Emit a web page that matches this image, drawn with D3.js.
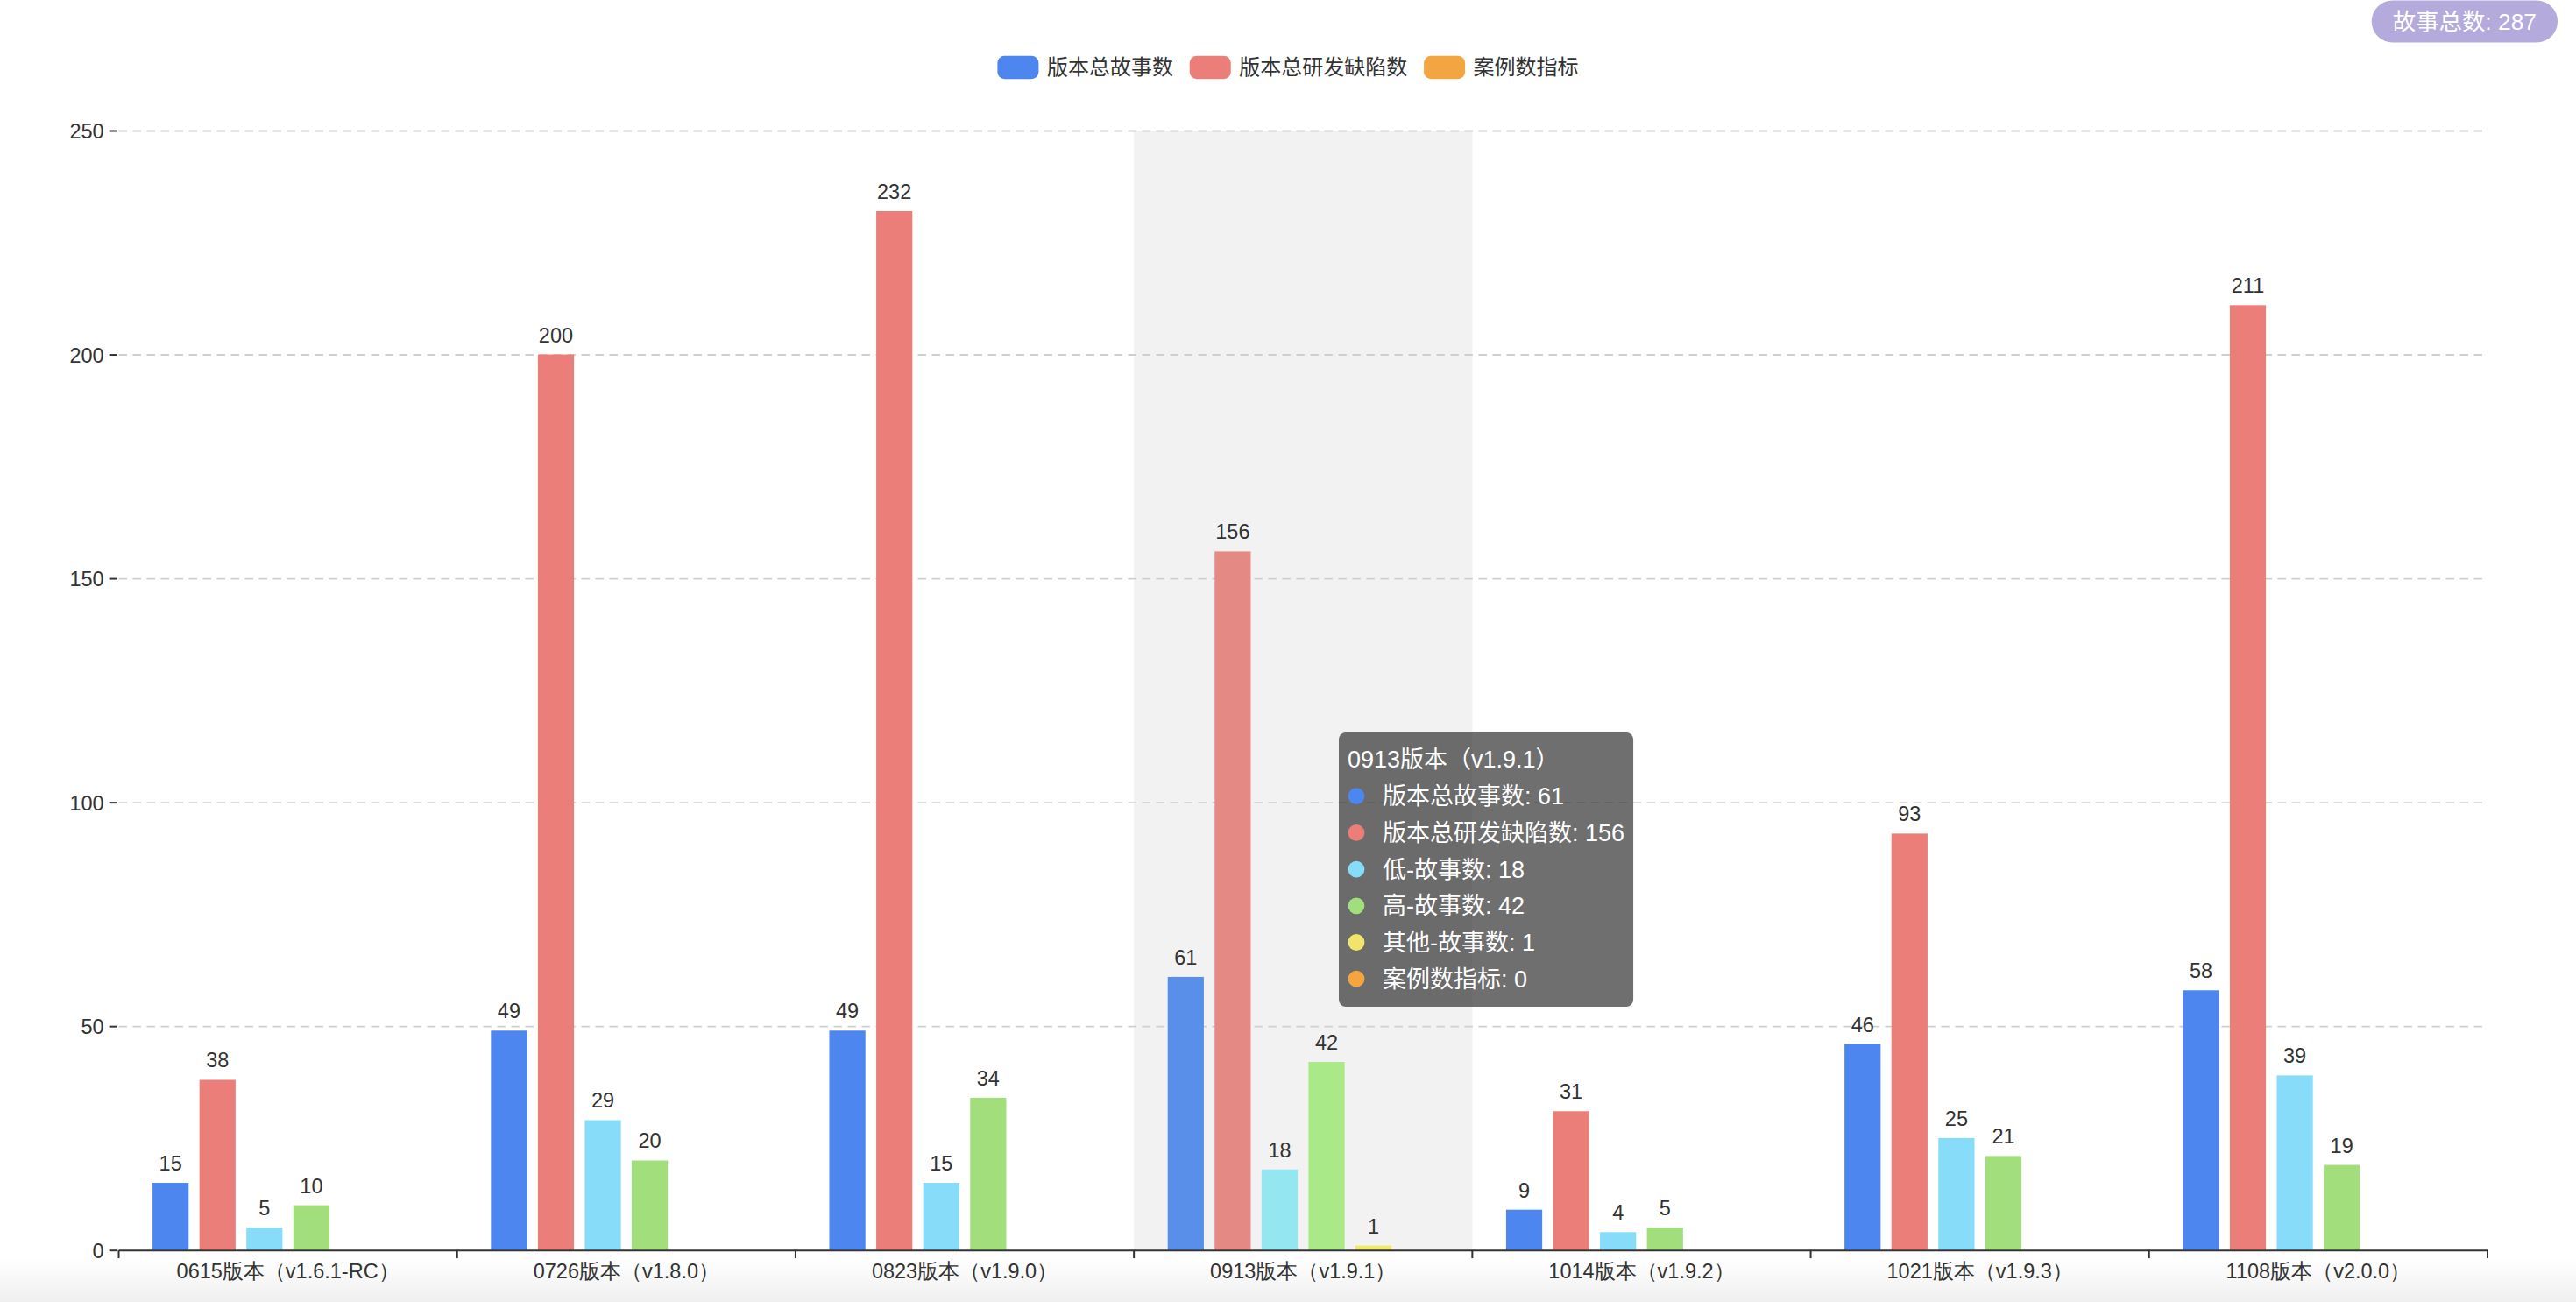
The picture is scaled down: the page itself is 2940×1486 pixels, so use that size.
<!DOCTYPE html>
<html>
  <head>
    <meta charset="utf-8" />
    <title>版本故事与缺陷统计</title>
    <script src="https://d3js.org/d3.v7.min.js"></script>
    <style>
      html, body { margin: 0; padding: 0; background: #fff; }
      svg { display: block; font-family: "Liberation Sans", "Noto Sans CJK SC", sans-serif; }
      .axis text { fill: #333; font-size: 23.5px; }
      .axis .domain { stroke: #333; stroke-width: 2; }
      .axis line { stroke: #333; stroke-width: 2; }
      .grid line { stroke: #cfcfcf; stroke-width: 1.9; stroke-dasharray: 9.4 6.6; }
      .grid .domain { display: none; }
      .value-label { fill: #333; font-size: 23.5px; text-anchor: middle; }
      .legend text { fill: #333; font-size: 24px; }
      .tip text { fill: #fff; font-size: 27px; }
    </style>
  </head>
  <body>
    <svg width="2940" height="1486"></svg>
    <script>
      // data
      var categories = [
        "0615版本（v1.6.1-RC）",
        "0726版本（v1.8.0）",
        "0823版本（v1.9.0）",
        "0913版本（v1.9.1）",
        "1014版本（v1.9.2）",
        "1021版本（v1.9.3）",
        "1108版本（v2.0.0）"
      ];
      var seriesNames = ["版本总故事数", "版本总研发缺陷数", "低-故事数", "高-故事数", "其他-故事数", "案例数指标"];
      var totalStories = [15, 49, 49, 61, 9, 46, 58];
      var totalDefects = [38, 200, 232, 156, 31, 93, 211];
      var lowStories = [5, 29, 15, 18, 4, 25, 39];
      var highStories = [10, 20, 34, 42, 5, 21, 19];
      var otherStories = [0, 0, 0, 1, 0, 0, 0];
      var caseIndex = [0, 0, 0, 0, 0, 0, 0];
      var yTicks = [0, 50, 100, 150, 200, 250];
      var legendNames = ["版本总故事数", "版本总研发缺陷数", "案例数指标"];
      var hovered = "0913版本（v1.9.1）";

      var seriesValues = [totalStories, totalDefects, lowStories, highStories, otherStories, caseIndex];
      var colors = ["#4e86ef", "#ec7e7a", "#87dcf9", "#a2de7b", "#f2e46b", "#f2a541"];
      var hoverColors = ["#5a8fe9", "#e58984", "#94e6f0", "#aae988", "#f0e96a", "#f0aa4c"];

      var W = 2940, H = 1486;
      var margin = { top: 149, right: 101, bottom: 59.3, left: 135.5 };
      var svg = d3.select("svg");

      // soft shade at the bottom edge
      var defs = svg.append("defs");
      var grad = defs.append("linearGradient").attr("id", "bottomShade")
        .attr("x1", 0).attr("y1", 0).attr("x2", 0).attr("y2", 1);
      grad.append("stop").attr("offset", "0%").attr("stop-color", "#ffffff");
      grad.append("stop").attr("offset", "100%").attr("stop-color", "#efefef");
      svg.append("rect").attr("x", 0).attr("y", 1436).attr("width", W).attr("height", 50)
        .attr("fill", "url(#bottomShade)");

      var x = d3.scaleBand().domain(categories).range([margin.left, W - margin.right]);
      var xs = d3.scaleBand().domain(seriesNames).range([0, x.bandwidth()])
        .paddingInner(0.2307).paddingOuter(0.72);
      var y = d3.scaleLinear().domain([0, 250]).range([H - margin.bottom, margin.top]);

      // hover shadow
      svg.append("rect")
        .attr("x", x(hovered)).attr("y", y(250))
        .attr("width", x.bandwidth()).attr("height", y(0) - y(250))
        .attr("fill", "#f2f2f2");

      // grid
      svg.append("g").attr("class", "grid")
        .attr("transform", "translate(" + margin.left + ",0)")
        .call(d3.axisLeft(y).tickValues(yTicks.filter(function (d) { return d > 0; }))
          .tickSize(-(W - margin.right - margin.left)).tickFormat(""));

      // y axis
      var yAxis = svg.append("g").attr("class", "axis")
        .attr("transform", "translate(" + (margin.left - 1.5) + ",0)")
        .call(d3.axisLeft(y).tickValues(yTicks).tickSize(9.4).tickPadding(6));
      yAxis.select(".domain").remove();
      yAxis.selectAll("text").attr("dy", "0.36em");

      // bars
      var groups = svg.append("g").selectAll("g")
        .data(categories).enter().append("g")
        .attr("transform", function (c) { return "translate(" + x(c) + ",0)"; });

      groups.each(function (c, ci) {
        var g = d3.select(this);
        var rows = seriesNames.map(function (s, si) {
          return { name: s, si: si, value: seriesValues[si][ci] };
        });
        g.selectAll("rect").data(rows).enter().append("rect")
          .attr("x", function (d) { return xs(d.name); })
          .attr("y", function (d) { return y(d.value); })
          .attr("width", xs.bandwidth())
          .attr("height", function (d) { return y(0) - y(d.value); })
          .attr("fill", function (d) { return c === hovered ? hoverColors[d.si] : colors[d.si]; });
        g.selectAll("text").data(rows.filter(function (d) { return d.value > 0; }))
          .enter().append("text").attr("class", "value-label")
          .attr("x", function (d) { return xs(d.name) + xs.bandwidth() / 2; })
          .attr("y", function (d) { return y(d.value) - 14; })
          .text(function (d) { return d.value; });
      });

      // x axis
      var xAxis = svg.append("g").attr("class", "axis")
        .attr("transform", "translate(0," + y(0) + ")")
        .call(d3.axisBottom(x).tickSize(0).tickPadding(16).tickSizeOuter(0));
      xAxis.selectAll("text").attr("dy", "0.71em");
      var boundaries = categories.map(function (c) { return x(c); }).concat([x.range()[1]]);
      xAxis.selectAll(".btick").data(boundaries).enter().append("line")
        .attr("class", "btick")
        .attr("x1", function (d) { return d; }).attr("x2", function (d) { return d; })
        .attr("y1", 0).attr("y2", 9.4);

      // legend
      var legend = svg.append("g").attr("class", "legend");
      var lx = 0;
      legendNames.forEach(function (name) {
        var si = seriesNames.indexOf(name);
        var item = legend.append("g").attr("transform", "translate(" + lx + ",0)");
        item.append("rect").attr("x", 0).attr("y", -13.2).attr("width", 47).attr("height", 26.4)
          .attr("rx", 8).attr("fill", colors[si]);
        var t = item.append("text").attr("x", 56.5).attr("y", 0).attr("dy", "0.35em").text(name);
        lx += 56.5 + t.node().getComputedTextLength() + 18.85;
      });
      lx -= 18.85;
      legend.attr("transform", "translate(" + (W / 2 - lx / 2) + ",77)");

      // total badge
      var total = d3.sum(totalStories);
      var badge = svg.append("g");
      var bt = badge.append("text").attr("fill", "#fff").style("font-size", "26.4px")
        .attr("text-anchor", "middle").attr("dy", "0.35em").text("故事总数: " + total);
      var bw = bt.node().getComputedTextLength() + 48;
      badge.insert("rect", "text").attr("x", -bw / 2).attr("y", -24).attr("width", bw).attr("height", 48)
        .attr("rx", 24).attr("fill", "#b4abdc");
      badge.attr("transform", "translate(" + (2919 - bw / 2) + ",24.5)");

      // tooltip for the hovered version
      var hi = categories.indexOf(hovered);
      var tip = svg.append("g").attr("class", "tip").attr("transform", "translate(1528,836)");
      var tipBg = tip.append("rect").attr("rx", 8).attr("fill", "rgba(50,50,50,0.7)");
      var maxW = 0;
      var tt = tip.append("text").attr("x", 10).attr("y", 31).attr("dy", "0.35em").text(hovered);
      maxW = Math.max(maxW, 10 + tt.node().getComputedTextLength());
      seriesNames.forEach(function (s, si) {
        var cy = 31 + 41.7 * (si + 1);
        tip.append("circle").attr("cx", 20).attr("cy", cy).attr("r", 9.4).attr("fill", colors[si]);
        var t = tip.append("text").attr("x", 50).attr("y", cy).attr("dy", "0.35em")
          .text(s + ": " + seriesValues[si][hi]);
        maxW = Math.max(maxW, 50 + t.node().getComputedTextLength());
      });
      tipBg.attr("width", maxW + 10).attr("height", 313);
    </script>
  </body>
</html>
